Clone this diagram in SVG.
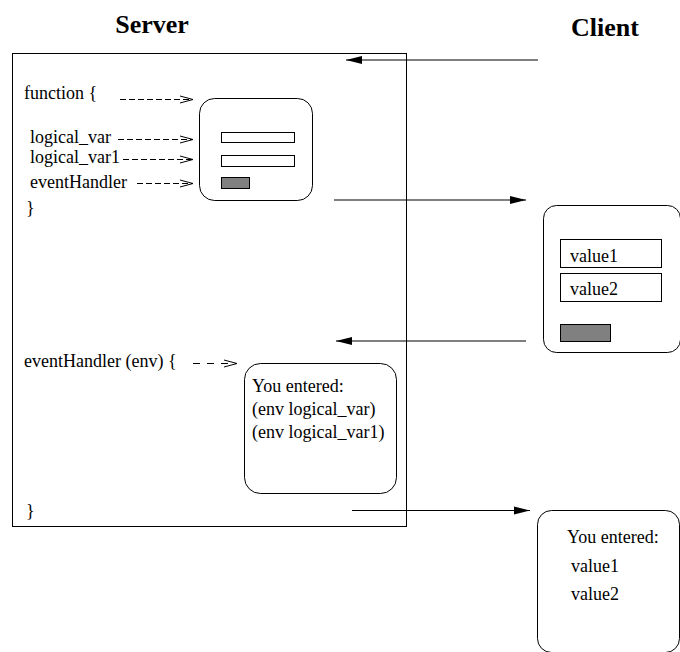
<svg xmlns="http://www.w3.org/2000/svg" width="680" height="652" viewBox="0 0 680 652">
<style>
text{font-family:"Liberation Serif","Times New Roman",serif;font-size:18px;fill:#000}
.title{font-weight:bold;font-size:26px}
.box{fill:none;stroke:#000;stroke-width:1}
.field{fill:#fff;stroke:#000;stroke-width:1}
.btn{fill:#808080;stroke:#000;stroke-width:1}
.solid{stroke:#000;stroke-width:1.2;fill:none}
.dash{stroke:#000;stroke-width:1;fill:none;stroke-dasharray:6 3}
.dash2{stroke:#000;stroke-width:1;fill:none;stroke-dasharray:7 7}
</style>
<defs>
<marker id="fa" markerUnits="userSpaceOnUse" markerWidth="17" markerHeight="9" refX="16" refY="4.5" orient="auto">
<path d="M0,0.5 L16,4.5 L0,8.5 z" fill="#000"/>
</marker>
<marker id="oa" markerUnits="userSpaceOnUse" markerWidth="14" markerHeight="9" refX="13" refY="4.5" orient="auto">
<polyline points="0,1 13,4.5 0,8" fill="none" stroke="#000" stroke-width="1"/>
</marker>
</defs>
<rect width="680" height="652" fill="#fff"/>

<g id="server-title"><text class="title" x="152" y="33" text-anchor="middle">Server</text></g>
<g id="client-title"><text class="title" x="605" y="36" text-anchor="middle">Client</text></g>

<g id="server">
<rect class="box" x="12.5" y="53.5" width="394" height="473"/>
<text x="24" y="99">function {</text>
<text x="30" y="143">logical_var</text>
<text x="30" y="163">logical_var1</text>
<text x="30" y="188">eventHandler</text>
<text x="26" y="214">}</text>
<text x="24" y="367">eventHandler (env) {</text>
<text x="26" y="517">}</text>
</g>

<g id="form-template">
<rect class="box" x="199.5" y="98.5" width="113" height="102" rx="15"/>
<rect class="field" x="221.5" y="132.5" width="73" height="10"/>
<rect class="field" x="221.5" y="155.5" width="73" height="11"/>
<rect class="btn" x="221.5" y="177.5" width="28" height="11"/>
</g>

<g id="handler-template">
<rect class="box" x="244.5" y="363.5" width="152" height="130" rx="16"/>
<text x="252" y="392">You entered:</text>
<text x="252" y="415">(env logical_var)</text>
<text x="252" y="438">(env logical_var1)</text>
</g>

<g id="client-form">
<rect class="box" x="543.5" y="205.5" width="137" height="147" rx="13"/>
<rect class="field" x="560.5" y="239.5" width="101" height="28"/>
<text x="570" y="262">value1</text>
<rect class="field" x="560.5" y="273.5" width="101" height="28"/>
<text x="570" y="295">value2</text>
<rect class="btn" x="560.5" y="324.5" width="50" height="17"/>
</g>

<g id="client-result">
<rect class="box" x="537.5" y="510.5" width="142" height="142" rx="14"/>
<text x="567" y="543">You entered:</text>
<text x="571" y="572">value1</text>
<text x="571" y="600">value2</text>
</g>

<g id="connectors">
<line class="solid" x1="538" y1="60" x2="346" y2="60" marker-end="url(#fa)"/>
<line class="solid" x1="334" y1="200" x2="526" y2="200" marker-end="url(#fa)"/>
<line class="solid" x1="526" y1="341" x2="336" y2="341" marker-end="url(#fa)"/>
<line class="solid" x1="352" y1="510.5" x2="530" y2="510.5" marker-end="url(#fa)"/>
<line class="dash" x1="120" y1="99.5" x2="193" y2="99.5" marker-end="url(#oa)"/>
<line class="dash" x1="118" y1="139.5" x2="193" y2="139.5" marker-end="url(#oa)"/>
<line class="dash" x1="123" y1="159.5" x2="193" y2="159.5" marker-end="url(#oa)"/>
<line class="dash" x1="137" y1="183.5" x2="193" y2="183.5" marker-end="url(#oa)"/>
<line class="dash2" x1="193" y1="363.5" x2="237" y2="363.5" marker-end="url(#oa)"/>
</g>
</svg>
